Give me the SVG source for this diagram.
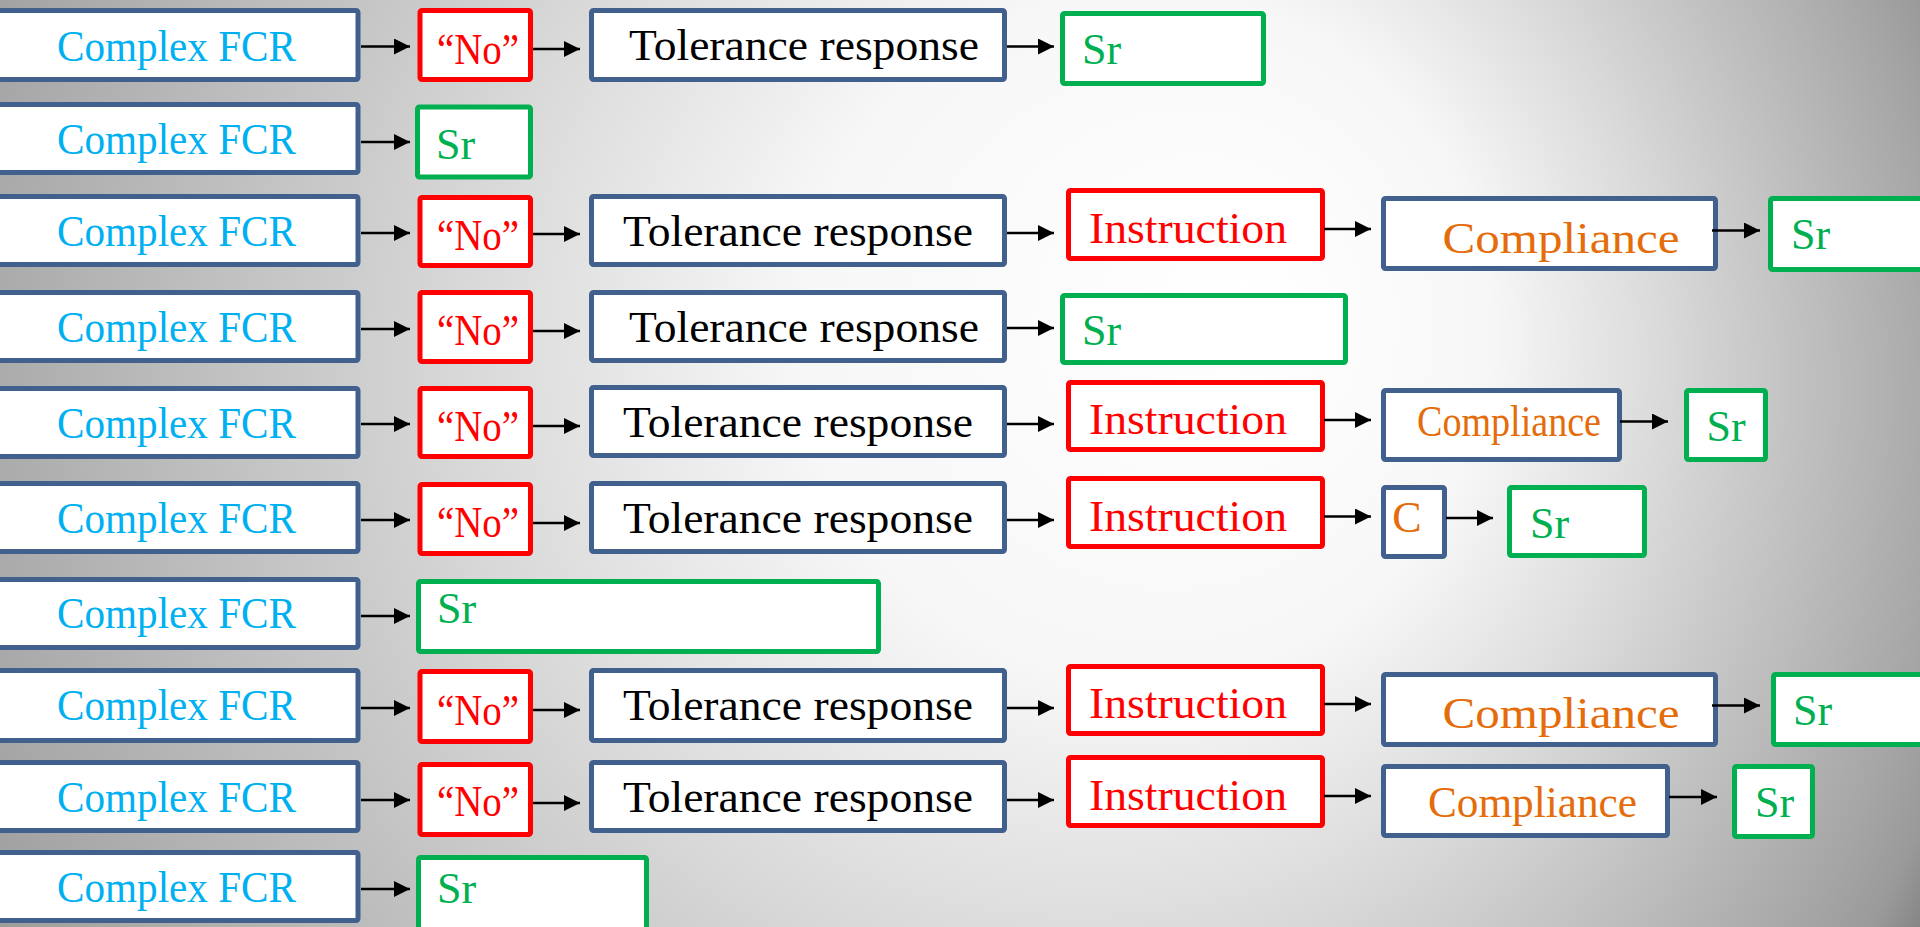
<svg xmlns="http://www.w3.org/2000/svg" width="1920" height="927" viewBox="0 0 1920 927">
<defs>
<radialGradient id="bg" gradientUnits="userSpaceOnUse" cx="900" cy="420" r="1150" fx="1250" fy="300">
<stop offset="0" stop-color="#ffffff"/>
<stop offset="0.3" stop-color="#f7f7f7"/>
<stop offset="0.5" stop-color="#dcdcdc"/>
<stop offset="0.87" stop-color="#a6a6a6"/>
<stop offset="0.94" stop-color="#9a9a9a"/>
<stop offset="1" stop-color="#808080"/>
</radialGradient>
<marker id="ah" markerUnits="userSpaceOnUse" markerWidth="17" markerHeight="16" refX="16" refY="8" orient="auto">
<path d="M0,0 L16,8 L0,16 z" fill="#000"/>
</marker>
<style>
rect.b{fill:#fff;stroke:#41608e;stroke-width:5}
rect.r{fill:#fff;stroke:#ff0000;stroke-width:5}
rect.g{fill:#fff;stroke:#00b050;stroke-width:5}
text{font-family:"Liberation Serif","Times New Roman",serif;font-size:44px}
.tf{fill:#00b0f0;text-anchor:middle}
.tn{fill:#ff0000;text-anchor:middle}
.tt{fill:#000;text-anchor:middle}
.ti{fill:#ff0000;text-anchor:middle}
.tc{fill:#e46c0a;text-anchor:middle}
.ts{fill:#00b050}
#arrows line{stroke:#000;stroke-width:2.7;marker-end:url(#ah)}
</style>
</defs>
<rect x="0" y="0" width="1920" height="927" fill="url(#bg)"/>

<g id="fcr1"><rect class="b" x="-10" y="10.5" width="368" height="69" rx="2"/><text class="tf" x="176.5" y="61" textLength="239" lengthAdjust="spacingAndGlyphs">Complex FCR</text></g>
<g id="fcr2"><rect class="b" x="-10" y="104.5" width="368" height="68" rx="2"/><text class="tf" x="176.5" y="154" textLength="239" lengthAdjust="spacingAndGlyphs">Complex FCR</text></g>
<g id="fcr3"><rect class="b" x="-10" y="196.5" width="368" height="68" rx="2"/><text class="tf" x="176.5" y="246" textLength="239" lengthAdjust="spacingAndGlyphs">Complex FCR</text></g>
<g id="fcr4"><rect class="b" x="-10" y="292.5" width="368" height="68" rx="2"/><text class="tf" x="176.5" y="342" textLength="239" lengthAdjust="spacingAndGlyphs">Complex FCR</text></g>
<g id="fcr5"><rect class="b" x="-10" y="388.5" width="368" height="68" rx="2"/><text class="tf" x="176.5" y="438" textLength="239" lengthAdjust="spacingAndGlyphs">Complex FCR</text></g>
<g id="fcr6"><rect class="b" x="-10" y="483.5" width="368" height="68" rx="2"/><text class="tf" x="176.5" y="533" textLength="239" lengthAdjust="spacingAndGlyphs">Complex FCR</text></g>
<g id="fcr7"><rect class="b" x="-10" y="579.5" width="368" height="68" rx="2"/><text class="tf" x="176.5" y="628" textLength="239" lengthAdjust="spacingAndGlyphs">Complex FCR</text></g>
<g id="fcr8"><rect class="b" x="-10" y="670.5" width="368" height="70" rx="2"/><text class="tf" x="176.5" y="720" textLength="239" lengthAdjust="spacingAndGlyphs">Complex FCR</text></g>
<g id="fcr9"><rect class="b" x="-10" y="762.5" width="368" height="68" rx="2"/><text class="tf" x="176.5" y="812" textLength="239" lengthAdjust="spacingAndGlyphs">Complex FCR</text></g>
<g id="fcr10"><rect class="b" x="-10" y="852.5" width="368" height="68" rx="2"/><text class="tf" x="176.5" y="902" textLength="239" lengthAdjust="spacingAndGlyphs">Complex FCR</text></g>

<g id="no1"><rect class="r" x="420" y="10.5" width="110.5" height="69" rx="2"/><text class="tn" x="478" y="64" font-size="46" textLength="82" lengthAdjust="spacingAndGlyphs">“No”</text></g>
<g id="no3"><rect class="r" x="420" y="197.5" width="110.5" height="68" rx="2"/><text class="tn" x="478" y="250" font-size="46" textLength="82" lengthAdjust="spacingAndGlyphs">“No”</text></g>
<g id="no4"><rect class="r" x="420" y="292.5" width="110.5" height="69" rx="2"/><text class="tn" x="478" y="345" font-size="46" textLength="82" lengthAdjust="spacingAndGlyphs">“No”</text></g>
<g id="no5"><rect class="r" x="420" y="388.5" width="110.5" height="68" rx="2"/><text class="tn" x="478" y="441" font-size="46" textLength="82" lengthAdjust="spacingAndGlyphs">“No”</text></g>
<g id="no6"><rect class="r" x="420" y="484.5" width="110.5" height="69" rx="2"/><text class="tn" x="478" y="537" font-size="46" textLength="82" lengthAdjust="spacingAndGlyphs">“No”</text></g>
<g id="no8"><rect class="r" x="420" y="671.5" width="110.5" height="70" rx="2"/><text class="tn" x="478" y="725" font-size="46" textLength="82" lengthAdjust="spacingAndGlyphs">“No”</text></g>
<g id="no9"><rect class="r" x="420" y="764.5" width="110.5" height="70" rx="2"/><text class="tn" x="478" y="816" font-size="46" textLength="82" lengthAdjust="spacingAndGlyphs">“No”</text></g>

<g id="tol1"><rect class="b" x="591.5" y="10.5" width="413" height="69" rx="2"/><text class="tt" x="804" y="60" textLength="350" lengthAdjust="spacingAndGlyphs">Tolerance response</text></g>
<g id="tol3"><rect class="b" x="591.5" y="196.5" width="413" height="68" rx="2"/><text class="tt" x="798" y="246" textLength="350" lengthAdjust="spacingAndGlyphs">Tolerance response</text></g>
<g id="tol4"><rect class="b" x="591.5" y="292.5" width="413" height="68" rx="2"/><text class="tt" x="804" y="342" textLength="350" lengthAdjust="spacingAndGlyphs">Tolerance response</text></g>
<g id="tol5"><rect class="b" x="591.5" y="387.5" width="413" height="68" rx="2"/><text class="tt" x="798" y="437" textLength="350" lengthAdjust="spacingAndGlyphs">Tolerance response</text></g>
<g id="tol6"><rect class="b" x="591.5" y="483.5" width="413" height="68" rx="2"/><text class="tt" x="798" y="533" textLength="350" lengthAdjust="spacingAndGlyphs">Tolerance response</text></g>
<g id="tol8"><rect class="b" x="591.5" y="670.5" width="413" height="70" rx="2"/><text class="tt" x="798" y="720" textLength="350" lengthAdjust="spacingAndGlyphs">Tolerance response</text></g>
<g id="tol9"><rect class="b" x="591.5" y="762.5" width="413" height="68" rx="2"/><text class="tt" x="798" y="812" textLength="350" lengthAdjust="spacingAndGlyphs">Tolerance response</text></g>

<g id="ins3"><rect class="r" x="1068.5" y="190.5" width="254" height="68" rx="2"/><text class="ti" x="1188" y="243" font-size="45" textLength="198" lengthAdjust="spacingAndGlyphs">Instruction</text></g>
<g id="ins5"><rect class="r" x="1068.5" y="382.5" width="254" height="67" rx="2"/><text class="ti" x="1188" y="434" font-size="45" textLength="198" lengthAdjust="spacingAndGlyphs">Instruction</text></g>
<g id="ins6"><rect class="r" x="1068.5" y="478.5" width="254" height="68" rx="2"/><text class="ti" x="1188" y="531" font-size="45" textLength="198" lengthAdjust="spacingAndGlyphs">Instruction</text></g>
<g id="ins8"><rect class="r" x="1068.5" y="666.5" width="254" height="67" rx="2"/><text class="ti" x="1188" y="718" font-size="45" textLength="198" lengthAdjust="spacingAndGlyphs">Instruction</text></g>
<g id="ins9"><rect class="r" x="1068.5" y="757.5" width="254" height="68" rx="2"/><text class="ti" x="1188" y="810" font-size="45" textLength="198" lengthAdjust="spacingAndGlyphs">Instruction</text></g>

<g id="comp3"><rect class="b" x="1383.5" y="198.5" width="332" height="70" rx="2"/><text class="tc" x="1561" y="252.5" font-size="50" textLength="237" lengthAdjust="spacingAndGlyphs">Compliance</text></g>
<g id="comp5"><rect class="b" x="1383.5" y="390.5" width="236" height="69" rx="2"/><text class="tc" x="1509" y="436" font-size="40" textLength="184" lengthAdjust="spacingAndGlyphs">Compliance</text></g>
<g id="comp6"><rect class="b" x="1383.5" y="487.5" width="61" height="69" rx="2"/><text class="tc" x="1407" y="532" font-size="32">C</text></g>
<g id="comp8"><rect class="b" x="1383.5" y="674.5" width="332" height="70" rx="2"/><text class="tc" x="1561" y="728" font-size="50" textLength="237" lengthAdjust="spacingAndGlyphs">Compliance</text></g>
<g id="comp9"><rect class="b" x="1383.5" y="766.5" width="284" height="69" rx="2"/><text class="tc" x="1532.5" y="817" font-size="45" textLength="209" lengthAdjust="spacingAndGlyphs">Compliance</text></g>

<g id="sr1"><rect class="g" x="1062.5" y="13.5" width="201" height="70" rx="2"/><text class="ts" x="1082" y="64">Sr</text></g>
<g id="sr2"><rect class="g" x="417.5" y="107" width="113" height="70" rx="2"/><text class="ts" x="436" y="159">Sr</text></g>
<g id="sr3"><rect class="g" x="1770.5" y="198.5" width="170" height="71" rx="2"/><text class="ts" x="1791" y="249">Sr</text></g>
<g id="sr4"><rect class="g" x="1062.5" y="295.5" width="283" height="67" rx="2"/><text class="ts" x="1082" y="345">Sr</text></g>
<g id="sr5"><rect class="g" x="1686.5" y="390.5" width="79" height="69" rx="2"/><text class="ts" x="1706.5" y="441">Sr</text></g>
<g id="sr6"><rect class="g" x="1509.5" y="487.5" width="135" height="68" rx="2"/><text class="ts" x="1530" y="538">Sr</text></g>
<g id="sr7"><rect class="g" x="418.5" y="581.5" width="460" height="70" rx="2"/><text class="ts" x="437" y="623">Sr</text></g>
<g id="sr8"><rect class="g" x="1773.5" y="674.5" width="170" height="70" rx="2"/><text class="ts" x="1793" y="725">Sr</text></g>
<g id="sr9"><rect class="g" x="1734.5" y="766.5" width="78" height="70" rx="2"/><text class="ts" x="1755" y="817">Sr</text></g>
<g id="sr10"><rect class="g" x="418.5" y="857.5" width="228" height="80" rx="2"/><text class="ts" x="437" y="903">Sr</text></g>

<g id="arrows">
<line x1="361" y1="46.5" x2="410" y2="46.5"/>
<line x1="361" y1="142" x2="410" y2="142"/>
<line x1="361" y1="233" x2="410" y2="233"/>
<line x1="361" y1="329" x2="410" y2="329"/>
<line x1="361" y1="424" x2="410" y2="424"/>
<line x1="361" y1="520" x2="410" y2="520"/>
<line x1="361" y1="616" x2="410" y2="616"/>
<line x1="361" y1="708" x2="410" y2="708"/>
<line x1="361" y1="800" x2="410" y2="800"/>
<line x1="361" y1="889" x2="410" y2="889"/>

<line x1="533" y1="49" x2="580" y2="49"/>
<line x1="533" y1="234" x2="580" y2="234"/>
<line x1="533" y1="331" x2="580" y2="331"/>
<line x1="533" y1="426" x2="580" y2="426"/>
<line x1="533" y1="523" x2="580" y2="523"/>
<line x1="533" y1="710" x2="580" y2="710"/>
<line x1="533" y1="803" x2="580" y2="803"/>

<line x1="1007" y1="46.5" x2="1054" y2="46.5"/>
<line x1="1007" y1="233" x2="1054" y2="233"/>
<line x1="1007" y1="328" x2="1054" y2="328"/>
<line x1="1007" y1="424" x2="1054" y2="424"/>
<line x1="1007" y1="520" x2="1054" y2="520"/>
<line x1="1007" y1="708" x2="1054" y2="708"/>
<line x1="1007" y1="800" x2="1054" y2="800"/>

<line x1="1324" y1="229" x2="1371" y2="229"/>
<line x1="1324" y1="420" x2="1371" y2="420"/>
<line x1="1324" y1="516.5" x2="1371" y2="516.5"/>
<line x1="1324" y1="704" x2="1371" y2="704"/>
<line x1="1324" y1="796" x2="1371" y2="796"/>

<line x1="1712" y1="230.5" x2="1760" y2="230.5"/>
<line x1="1620" y1="421.5" x2="1668" y2="421.5"/>
<line x1="1446" y1="518" x2="1493" y2="518"/>
<line x1="1712" y1="705.5" x2="1760" y2="705.5"/>
<line x1="1669" y1="797" x2="1717" y2="797"/>
</g>
</svg>
